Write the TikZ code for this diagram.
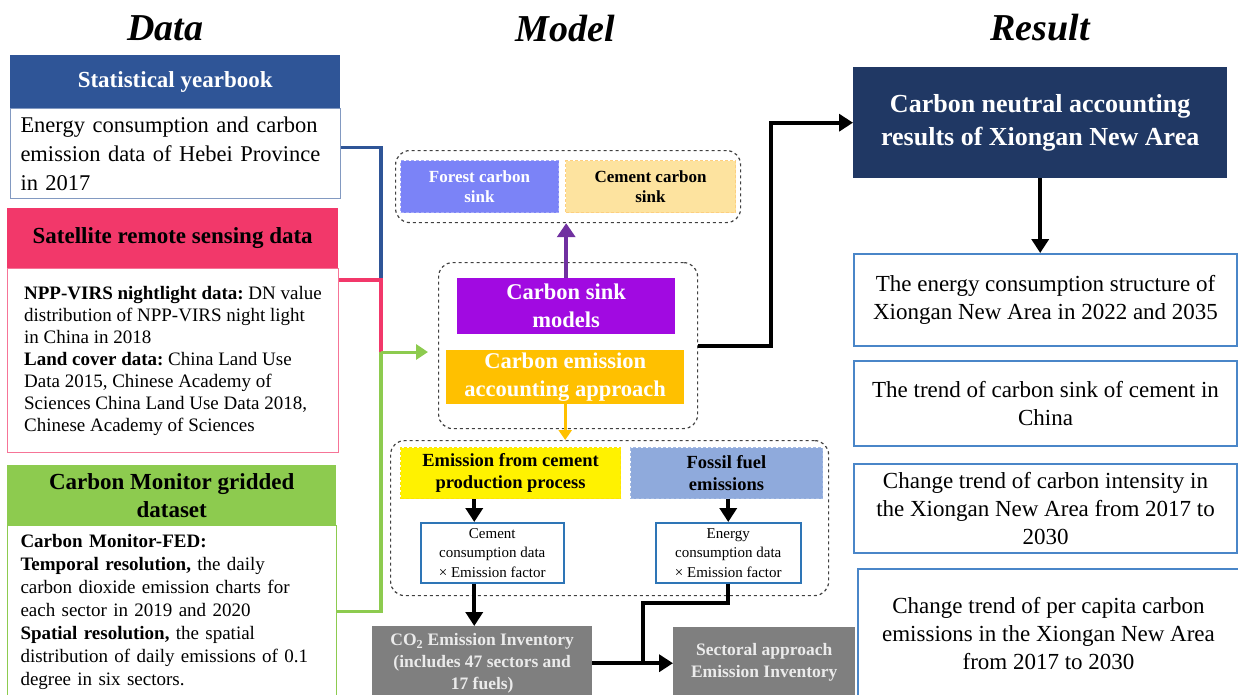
\documentclass[tikz,border=0pt]{standalone}
\usepackage{fontspec}
\setmainfont{Liberation Serif}
\usetikzlibrary{arrows.meta,positioning}
\frenchspacing
\definecolor{ybblue}{RGB}{47,85,151}
\definecolor{satpink}{RGB}{242,56,106}
\definecolor{cmgreen}{RGB}{141,203,79}
\definecolor{forestc}{RGB}{123,131,247}
\definecolor{sinkyel}{RGB}{253,227,159}
\definecolor{sinkpurple}{RGB}{161,10,225}
\definecolor{arrpurple}{RGB}{112,48,160}
\definecolor{apporange}{RGB}{255,192,0}
\definecolor{fossilc}{RGB}{143,170,220}
\definecolor{calcblue}{RGB}{46,117,182}
\definecolor{invgray}{RGB}{127,127,127}
\definecolor{navy}{RGB}{32,56,100}
\definecolor{resblue}{RGB}{74,134,200}

\begin{document}
\begin{tikzpicture}[x=1pt,y=-1pt,
  ttl/.style={font=\fontsize{38}{44}\selectfont\bfseries\itshape},
  hdr/.style={anchor=north west, inner sep=0pt, align=center, font=\fontsize{23}{28}\selectfont\bfseries},
  body/.style={anchor=north west, draw=#1, line width=1pt, fill=white, align=left, inner ysep=0pt},
  grp/.style={anchor=north west, draw=black!75, dashed, line width=1.2pt, rounded corners=14pt, inner sep=0pt},
  sub/.style={anchor=north west, inner sep=0pt, align=center, densely dashed, line width=1pt, font=\fontsize{17}{20}\selectfont\bfseries},
  blk/.style={anchor=north west, inner sep=0pt, align=center, text=white, font=\fontsize{22.5}{28}\selectfont\bfseries},
  calcbox/.style={anchor=north west, inner sep=0pt, align=center, draw=calcblue, line width=1.5pt, fill=white, minimum height=60pt, font=\fontsize{15}{19.5}\selectfont},
  inv/.style={anchor=north west, inner sep=0pt, align=center, fill=invgray, text=white!92!black, font=\fontsize{17.5}{22}\selectfont\bfseries},
  rbox/.style={anchor=north west, inner sep=0pt, align=center, draw=resblue, line width=2pt, fill=white, minimum width=383pt, font=\fontsize{23}{28}\selectfont},
  link/.style={line width=3.5pt},
  barrow/.style={line width=4pt, -{Triangle[length=14pt,width=17pt]}},
  bline/.style={line width=4pt},
]
\useasboundingbox (0,0) rectangle (1238,694);
\clip (0,0) rectangle (1238,694);

\node[ttl] (tdata) at (165,28) {Data};
\node[ttl] (tmodel) at (565,28) {Model};
\node[ttl] (tres) at (1040,28) {Result};

\node[hdr, fill=ybblue, text=white, minimum width=330pt, minimum height=53pt] (yb) at (10,55) {Statistical yearbook};
\node[body=ybblue!60, font=\fontsize{22.5}{29}\selectfont, text width=310pt, inner xsep=10pt, minimum height=90pt] (ybtxt) at (10,108)
  {Energy consumption and carbon\\emission data of Hebei Province\\in 2017};

\node[hdr, fill=satpink, minimum width=331pt, minimum height=60pt] (sat) at (7,208) {Satellite remote sensing data};
\node[body=satpink!70, font=\fontsize{19}{22}\selectfont, inner xsep=12pt, minimum width=331pt, minimum height=184pt] (sattxt) at (7,268)
  {\textbf{NPP-VIRS nightlight data:} DN value\\distribution of NPP-VIRS night light\\in China in 2018\\
   \textbf{Land cover data:} China Land Use\\Data 2015, Chinese Academy of\\Sciences China Land Use Data 2018,\\Chinese Academy of Sciences};

\node[hdr, fill=cmgreen, minimum width=329pt, minimum height=60pt] (cm) at (7,465) {Carbon Monitor gridded\\dataset};
\node[body=cmgreen, font=\fontsize{19}{23}\selectfont, text width=303pt, inner xsep=13pt, minimum height=172pt] (cmtxt) at (7,525)
  {\textbf{Carbon Monitor-FED:}\\\textbf{Temporal resolution,} the daily\\carbon dioxide emission charts for\\each sector in 2019 and 2020\\
   \textbf{Spatial resolution,} the spatial\\distribution of daily emissions of 0.1\\degree in six sectors.};

\node[grp, minimum width=345pt, minimum height=72pt] (sinkgrp) at (395,150) {};
\node[sub, fill=forestc, draw=forestc!70!white, text=white, minimum width=158pt, minimum height=52pt] (forest) at (400,160) {Forest carbon\\sink};
\node[sub, fill=sinkyel, draw=sinkyel!80!orange, minimum width=170pt, minimum height=52pt] (cemsink) at (565,160) {Cement carbon\\sink};

\node[grp, minimum width=259pt, minimum height=166pt] (mid) at (438,262) {};
\node[blk, fill=sinkpurple, minimum width=218pt, minimum height=56pt] (models) at (457,278) {Carbon sink\\models};
\node[blk, fill=apporange, minimum width=238pt, minimum height=54pt] (approach) at (446,350) {Carbon emission\\accounting approach};

\node[grp, minimum width=438pt, minimum height=155pt] (emgrp) at (390,440) {};
\node[sub, fill=yellow, draw=yellow!85!orange, font=\fontsize{18.5}{22}\selectfont\bfseries, minimum width=220pt, minimum height=51pt] (cemproc) at (400,447) {Emission from cement\\production process};
\node[sub, fill=fossilc, draw=fossilc!80!white, font=\fontsize{18.5}{22}\selectfont\bfseries, minimum width=192pt, minimum height=51pt] (fossil) at (630,447) {Fossil fuel\\emissions};
\node[calcbox, minimum width=143pt] (cemdata) at (420,522) {Cement\\consumption data\\× Emission factor};
\node[calcbox, minimum width=145pt] (enedata) at (655,522) {Energy\\consumption data\\× Emission factor};

\node[inv, minimum width=220pt, minimum height=74pt] (inv) at (372,626) {CO\textsubscript{2} Emission Inventory\\(includes 47 sectors and\\17 fuels)};
\node[inv, minimum width=182pt, minimum height=70pt] (sect) at (673,627) {Sectoral approach\\Emission Inventory};
\coordinate (merge) at (643,663);

\node[anchor=north west, inner sep=0pt, align=center, fill=navy, text=white, minimum width=374pt, minimum height=111pt,
  font=\fontsize{26}{33}\selectfont\bfseries] (res) at (853,67) {Carbon neutral accounting\\results of Xiongan New Area};
\node[rbox, minimum height=92pt] (r1) at (853,253) {The energy consumption structure of\\Xiongan New Area in 2022 and 2035};
\node[rbox, minimum height=85pt] (r2) at (853,360) {The trend of carbon sink of cement in\\China};
\node[rbox, minimum height=89pt] (r3) at (853,463) {Change trend of carbon intensity in\\the Xiongan New Area from 2017 to\\2030};
\node[rbox, minimum width=381pt, minimum height=130pt] (r4) at (857,568) {Change trend of per capita carbon\\emissions in the Xiongan New Area\\from 2017 to 2030};

\coordinate (bj) at (381,280);
\coordinate (pj) at (381,352);
\draw[link, ybblue] ([yshift=6pt]ybtxt.east) -| (bj);
\draw[link, satpink] ([yshift=-12pt]sattxt.north east) -| (pj);
\draw[link, cmgreen] (cmtxt.east) -| (pj);
\draw[link, cmgreen, line width=3pt, -{Triangle[length=12pt,width=15pt]}] (pj) -- ([xshift=-10pt]mid.west |- pj);

\draw[line width=4.5pt, arrpurple, -{Triangle[length=14pt,width=18pt]}] (models.north) -- (models.north |- sinkgrp.south);
\draw[line width=3pt, apporange, -{Triangle[length=10pt,width=13pt]}] (approach.south) -- (approach.south |- emgrp.north);
\draw[barrow] ([xshift=-18pt]cemdata.north |- cemproc.south) -- ([xshift=-18pt]cemdata.north);
\draw[barrow] (enedata.north |- fossil.south) -- (enedata.north);
\draw[barrow] ([xshift=-18pt]cemdata.south) -- ([xshift=-18pt]cemdata.south |- inv.north);
\draw[bline] (enedata.south) -- ++(0,19) -| (merge);
\draw[barrow] (inv.east) -- (inv.east -| sect.west);
\draw[barrow] (mid.east) -- ++(73,0) |- (res.west);
\draw[barrow] (res.south) -- (res.south |- r1.north);
\end{tikzpicture}
\end{document}
